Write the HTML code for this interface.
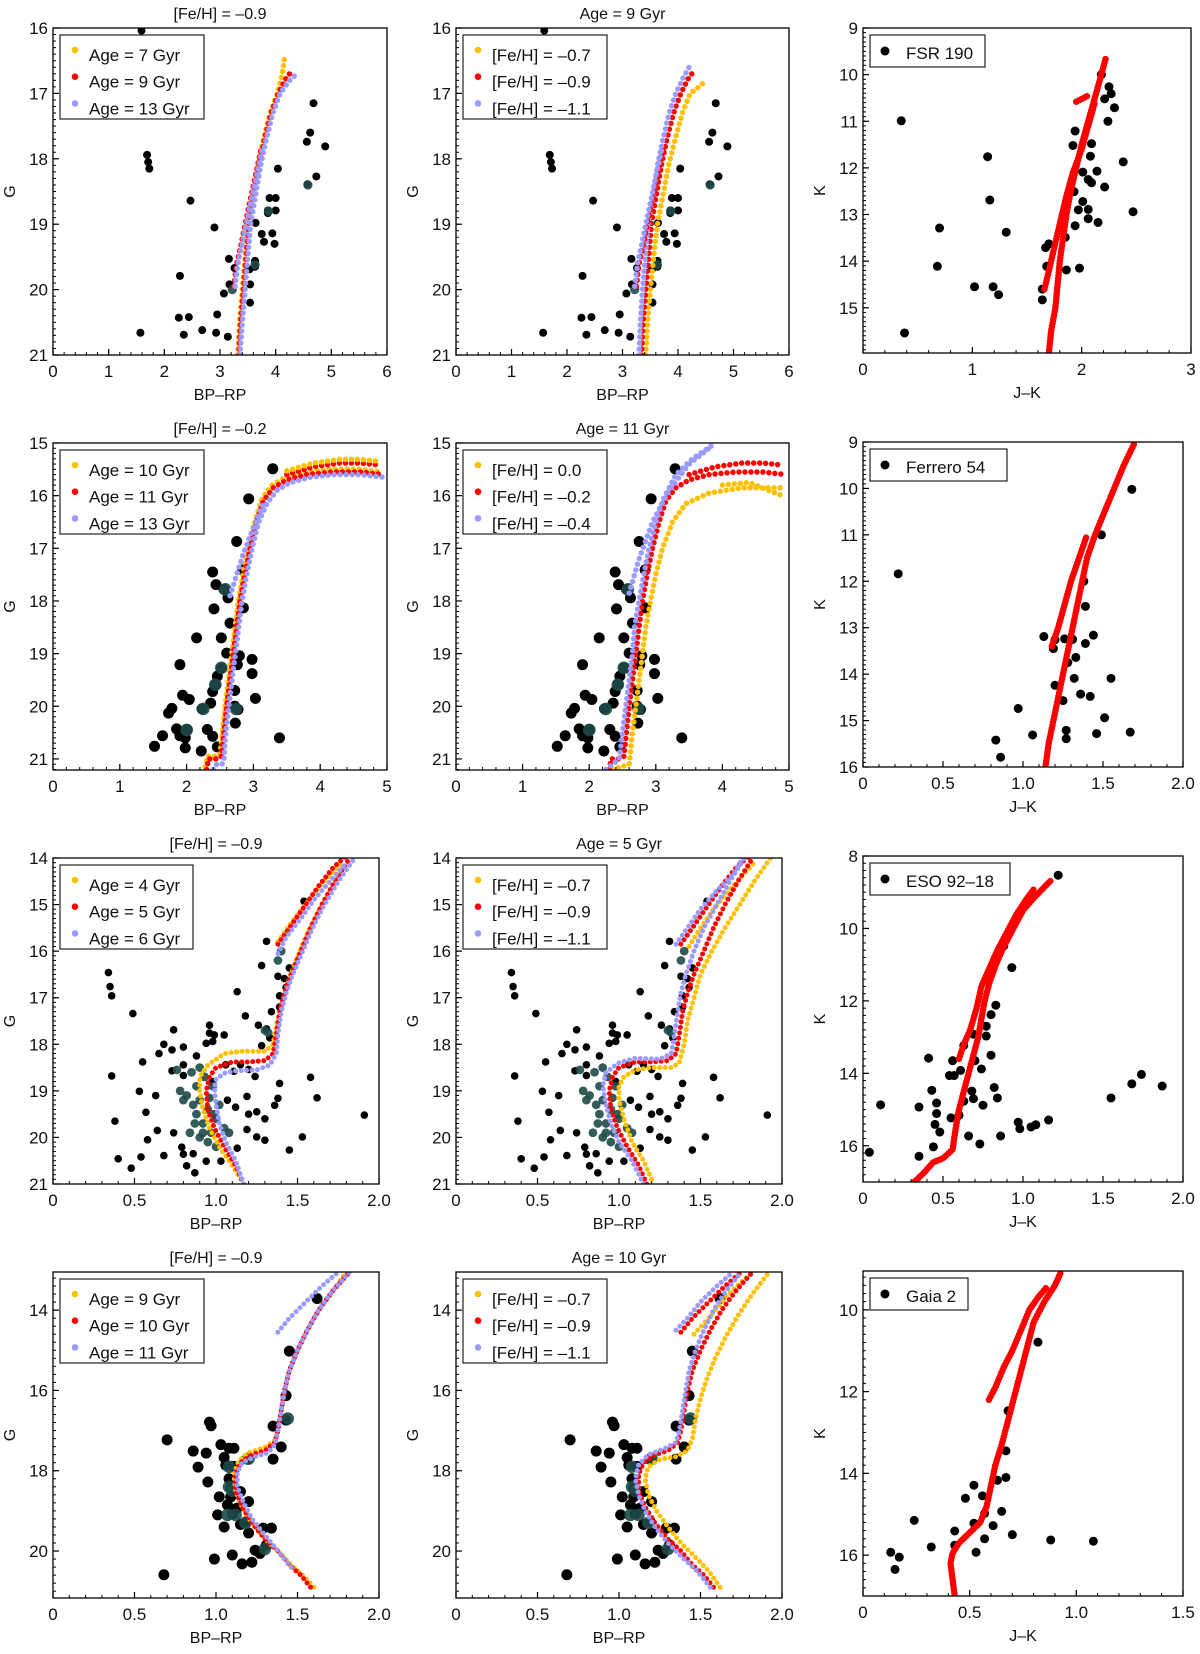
<!DOCTYPE html>
<html><head><meta charset="utf-8">
<style>
html,body{margin:0;padding:0;background:#fff;}
svg{display:block;font-family:"Liberation Sans",sans-serif;}
</style></head>
<body>
<svg id="fig" width="1200" height="1654" viewBox="0 0 1200 1654" xmlns="http://www.w3.org/2000/svg"></svg>
<script>
// ===== Data arrays =====
const c1X=[1.59,1.69,1.71,1.73,2.47,2.9,3.16,2.28,3.17,3.07,3.26,2.95,2.44,2.26,1.57,2.35,2.68,2.93,3.14,3.54,3.54,3.63,3.63,3.53,3.64,3.75,3.79,3.94,3.98,3.89,4.0,3.86,4.0,3.86,4.04,4.56,4.62,4.68,4.89,4.73,4.57];
const c1Y=[16.04,17.94,18.05,18.15,18.64,19.05,19.53,19.79,19.92,20.06,19.67,20.38,20.42,20.43,20.66,20.69,20.62,20.66,20.72,20.2,19.92,19.56,19.65,19.69,18.98,19.15,19.27,19.14,19.3,18.6,18.6,18.79,18.79,18.83,18.15,17.74,17.6,17.15,17.81,18.27,18.39];
const c1TX=[3.63,3.87,4.58,3.22];
const c1TY=[19.62,18.8,18.4,20.0];
const r1L_age7_X=[3.32,3.35,3.4,3.45,3.5,3.58,3.68,3.78,3.9,4.03,4.12,4.16];const r1L_age7_Y=[21.0,20.5,20.0,19.5,19.0,18.6,18.1,17.7,17.3,17.0,16.7,16.45];
const r1L_age9_X=[3.34,3.37,3.42,3.47,3.52,3.6,3.7,3.8,3.92,4.05,4.2,4.3];const r1L_age9_Y=[21.0,20.5,20.0,19.5,19.0,18.6,18.1,17.7,17.3,17.0,16.75,16.65];
const r1L_age13_X=[3.36,3.4,3.45,3.5,3.55,3.63,3.73,3.83,3.95,4.08,4.25,4.38];const r1L_age13_Y=[21.0,20.5,20.0,19.5,19.0,18.6,18.1,17.7,17.3,17.0,16.8,16.7];
const r1_hbX=[3.25,3.3,3.38,3.45,3.55,3.65,3.75];const r1_hbY=[19.95,19.6,19.3,19.0,18.6,18.2,17.8];
const r1M_fe07_X=[3.42,3.45,3.5,3.56,3.63,3.72,3.83,3.95,4.08,4.22,4.38,4.5];const r1M_fe07_Y=[21.0,20.5,20.0,19.5,19.0,18.6,18.1,17.7,17.3,17.0,16.9,16.8];
const r1M_fe11_X=[3.3,3.32,3.36,3.41,3.46,3.54,3.63,3.73,3.84,3.96,4.1,4.2];const r1M_fe11_Y=[21.0,20.5,20.0,19.5,19.0,18.6,18.1,17.7,17.3,17.0,16.75,16.6];
const c2X=[3.29,2.93,2.75,2.84,2.39,2.44,2.56,2.62,2.41,2.85,2.65,2.15,2.52,2.6,2.79,2.98,1.9,2.76,2.52,2.98,2.46,2.43,2.39,2.72,1.94,2.04,3.03,2.36,2.23,2.72,2.77,1.78,1.73,2.73,1.85,2.01,1.9,1.98,2.31,2.39,1.64,1.52,1.98,2.22,2.46,3.39];
const c2Y=[15.49,16.06,16.87,17.41,17.45,17.69,17.78,17.94,18.15,18.13,18.42,18.7,18.7,18.99,19.04,19.11,19.21,19.21,19.27,19.38,19.43,19.59,19.72,19.7,19.79,19.87,19.85,19.94,20.05,20.0,20.06,20.04,20.13,20.32,20.43,20.44,20.56,20.6,20.44,20.57,20.56,20.76,20.79,20.85,20.77,20.6];
const c2TX=[2.58,2.25,2.52,2.43,2.0,2.74];
const c2TY=[17.78,20.05,19.27,19.59,20.45,20.05];
const r2_fe02_X=[2.3,2.33,2.45,2.52,2.55,2.6,2.65,2.7,2.75,2.8,2.87,2.95,3.05,3.15,3.3,3.5,3.8,4.2,4.6,4.95];const r2_fe02_Y=[21.2,21.0,21.0,20.95,20.6,20.0,19.5,19.0,18.5,18.0,17.5,17.0,16.5,16.1,15.85,15.7,15.6,15.55,15.55,15.6];
const r2_agbX=[3.5,3.9,4.3,4.6,4.9];const r2_agbY=[15.6,15.45,15.38,15.38,15.42];
const r2_hbX=[2.65,2.75,2.85,3.0,3.15];const r2_hbY=[17.9,17.5,17.1,16.6,16.15];
const r2_age13_X=[2.4,2.45,2.53,2.56,2.58,2.63,2.68,2.73,2.78,2.83,2.9,2.98,3.08,3.2,3.35,3.55,3.85,4.2,4.6,4.95];const r2_age13_Y=[21.2,21.1,21.1,21.0,20.6,20.0,19.5,19.0,18.5,18.0,17.5,17.0,16.5,16.15,15.9,15.75,15.65,15.6,15.6,15.65];
const r2_fe00_X=[2.35,2.6,2.65,2.7,2.75,2.8,2.85,2.92,3.0,3.1,3.25,3.45,3.8,4.3,4.9];const r2_fe00_Y=[21.2,21.1,20.5,20.0,19.5,19.0,18.5,18.0,17.5,17.0,16.5,16.15,15.95,15.85,15.85];
const r2_fe00agbX=[4.0,4.4,4.9];const r2_fe00agbY=[15.8,15.75,16.0];
const r2_fe04_X=[2.25,2.45,2.5,2.55,2.6,2.65,2.68,2.75,2.82,2.9,3.0,3.1,3.3,3.55,3.9];const r2_fe04_Y=[21.2,21.0,20.5,20.0,19.5,19.0,18.5,18.0,17.5,17.0,16.5,16.1,15.6,15.3,15.0];
const r2_fe04hbX=[2.6,2.75,2.95,3.2,3.5,3.8];const r2_fe04hbY=[17.85,17.2,16.5,15.9,15.4,15.1];
const c3X=[0.34,0.35,0.36,0.49,0.36,0.55,0.38,0.53,0.57,0.64,0.58,0.4,0.54,0.48,0.68,0.63,0.74,0.68,0.65,0.73,0.8,0.73,0.8,0.8,0.88,0.96,0.96,0.99,1.05,0.94,0.98,1.13,1.18,1.26,1.31,1.28,1.33,1.31,1.28,1.38,1.39,1.45,1.42,1.43,1.39,1.34,1.54,1.58,1.62,1.91,1.53,1.45,1.39,1.36,1.38,1.19,1.2,1.25,1.3,1.12,1.07,1.19,1.25,1.3,1.13,1.03,0.94,0.82,0.87,0.8,0.86,0.74,0.79,0.98,1.11,1.15,1.2,1.06,1.24];
const c3Y=[16.46,16.76,16.96,17.34,18.68,18.38,19.65,19.01,19.46,19.85,20.05,20.46,20.42,20.66,20.39,19.1,17.69,18.0,18.2,18.12,18.06,18.57,18.67,18.44,18.25,17.59,17.76,17.8,17.8,17.98,17.94,16.87,17.39,17.59,17.67,18.03,17.86,15.79,16.31,16.54,16.96,16.36,16.59,16.78,17.2,17.3,14.93,18.71,19.15,19.52,19.99,20.27,18.84,19.31,19.16,19.12,19.5,19.45,19.6,19.35,19.2,19.83,19.99,20.06,20.23,20.51,20.51,20.61,20.76,20.36,20.35,19.9,20.21,18.8,18.58,18.44,18.54,18.44,18.69];
const c3TX=[0.85,0.88,0.82,0.9,0.95,0.88,0.92,0.97,1.0,1.02,0.86,0.8,0.93,1.05,0.95,1.0,0.9,0.84,0.98,0.9,1.08,0.78,0.96,0.92,0.87,0.99,0.76,1.38,1.4,1.3,1.32];
const c3TY=[18.6,18.9,19.1,19.2,19.4,19.5,19.7,19.9,19.6,19.3,19.3,19.2,18.7,19.8,20.1,20.2,20.0,19.9,18.9,18.5,19.9,19.0,19.15,19.9,19.7,19.5,18.55,16.2,16.0,17.7,17.75];
const r3_age4_X=[1.17,1.1,1.02,0.96,0.92,0.9,0.9,0.95,1.05,1.15,1.3,1.35,1.37,1.4,1.43,1.48,1.55,1.62,1.7,1.8];const r3_age4_Y=[21.0,20.6,20.2,19.8,19.4,19.0,18.7,18.45,18.2,18.15,18.15,18.0,17.6,17.2,16.8,16.3,15.7,15.2,14.7,14.1];
const r3_age4b_X=[1.38,1.46,1.55,1.65,1.77];const r3_age4b_Y=[15.8,15.4,15.0,14.55,14.1];
const r3_age5_X=[1.17,1.12,1.05,0.99,0.95,0.94,0.96,1.0,1.1,1.2,1.3,1.35,1.37,1.39,1.42,1.46,1.52,1.58,1.65,1.73,1.82];const r3_age5_Y=[21.0,20.6,20.2,19.8,19.4,19.0,18.7,18.5,18.38,18.38,18.35,18.2,17.8,17.3,16.9,16.5,16.0,15.5,15.0,14.5,14.0];
const r3_age5b_X=[1.38,1.45,1.55,1.63,1.72,1.8];const r3_age5b_Y=[15.85,15.5,15.0,14.6,14.2,13.95];
const r3_age6_X=[1.17,1.12,1.06,1.02,1.0,0.99,1.0,1.05,1.12,1.25,1.33,1.37,1.38,1.4,1.43,1.47,1.52,1.58,1.65,1.75,1.85];const r3_age6_Y=[21.0,20.5,20.1,19.7,19.3,18.95,18.75,18.62,18.57,18.55,18.45,18.2,17.8,17.3,16.9,16.5,16.1,15.6,15.1,14.5,14.0];
const r3_age6b_X=[1.38,1.43,1.52,1.6,1.7,1.8];const r3_age6b_Y=[16.05,15.7,15.3,14.9,14.5,14.1];
const r3_fe07_X=[1.2,1.15,1.08,1.03,1.0,1.0,1.03,1.1,1.2,1.32,1.37,1.4,1.42,1.46,1.5,1.57,1.65,1.74,1.83,1.93];const r3_fe07_Y=[20.9,20.5,20.1,19.6,19.2,18.9,18.7,18.55,18.5,18.5,18.4,18.0,17.5,17.0,16.5,16.0,15.5,15.0,14.5,14.0];
const r3_fe07b_X=[1.43,1.5,1.58,1.7,1.83];const r3_fe07b_Y=[15.9,15.5,15.1,14.6,14.1];
const r3_fe11_X=[1.15,1.08,1.0,0.95,0.92,0.9,0.92,1.0,1.1,1.25,1.32,1.34,1.36,1.38,1.41,1.46,1.52,1.6,1.68,1.77];const r3_fe11_Y=[21.0,20.5,20.1,19.7,19.3,18.9,18.6,18.4,18.3,18.32,18.2,17.8,17.3,16.9,16.5,16.0,15.5,15.0,14.5,14.0];
const r3_fe11b_X=[1.35,1.42,1.5,1.6,1.7,1.76];const r3_fe11b_Y=[15.85,15.5,15.1,14.7,14.35,14.0];
const c4X=[0.7,0.68,0.86,0.89,0.95,0.94,0.96,0.97,1.03,1.08,1.11,1.05,1.06,1.11,1.08,1.02,1.09,1.07,1.13,1.01,1.1,1.05,1.15,1.2,1.19,1.2,1.29,1.34,1.24,1.27,1.31,0.99,1.1,1.16,1.22,1.35,1.35,1.4,1.43,1.43,1.45,1.62,1.19,1.15,1.09];
const c4Y=[17.23,20.59,17.51,17.91,18.28,17.56,16.79,16.88,17.35,17.44,17.44,17.67,17.86,17.89,18.2,18.65,18.65,18.85,18.93,19.1,19.08,19.4,19.34,18.77,19.26,19.55,19.43,19.43,19.98,20.06,19.85,20.2,20.1,20.32,20.28,17.71,16.89,17.41,16.74,16.13,15.02,13.71,17.71,18.52,18.44];
const c4TX=[1.08,1.08,1.1,1.12,1.18,1.07,1.3,1.2,1.44];
const c4TY=[17.9,18.4,18.5,19.1,19.3,19.1,19.95,17.7,16.7];
const r4_age9_X=[1.6,1.53,1.46,1.38,1.3,1.22,1.16,1.12,1.11,1.14,1.2,1.3,1.36,1.38,1.4,1.42,1.45,1.5,1.56,1.63,1.72,1.8];const r4_age9_Y=[20.9,20.6,20.35,20.0,19.7,19.3,18.9,18.5,18.1,17.75,17.55,17.42,17.25,17.0,16.5,16.0,15.5,15.0,14.5,14.0,13.5,13.05];
const r4_age10_X=[1.58,1.52,1.45,1.38,1.3,1.22,1.16,1.12,1.12,1.15,1.22,1.3,1.36,1.38,1.4,1.42,1.45,1.5,1.56,1.63,1.72,1.82];const r4_age10_Y=[20.9,20.6,20.35,20.0,19.7,19.3,18.9,18.5,18.1,17.8,17.6,17.5,17.3,17.0,16.5,16.0,15.5,15.0,14.5,14.0,13.5,13.05];
const r4_age11_X=[1.46,1.4,1.34,1.28,1.22,1.17,1.13,1.13,1.16,1.24,1.32,1.36,1.38,1.4,1.42,1.45,1.5,1.56,1.63,1.72,1.82];const r4_age11_Y=[20.4,20.1,19.8,19.5,19.2,18.8,18.4,18.05,17.8,17.65,17.55,17.35,17.0,16.5,16.0,15.5,15.0,14.5,14.0,13.5,13.05];
const r4_bX=[1.38,1.45,1.55,1.65,1.75];const r4_bY=[14.55,14.2,13.8,13.4,13.05];
const r4_fe07_X=[1.62,1.55,1.48,1.38,1.3,1.23,1.18,1.16,1.18,1.25,1.35,1.42,1.45,1.47,1.5,1.54,1.59,1.65,1.72,1.8,1.92];const r4_fe07_Y=[20.9,20.5,20.2,19.8,19.4,19.0,18.6,18.2,17.9,17.72,17.65,17.5,17.2,16.7,16.2,15.7,15.2,14.7,14.2,13.7,13.05];
const r4_fe07b_X=[1.46,1.55,1.65,1.75,1.82];const r4_fe07b_Y=[14.6,14.2,13.7,13.3,13.05];
const r4_fe11_X=[1.56,1.48,1.4,1.3,1.22,1.16,1.12,1.1,1.12,1.18,1.28,1.35,1.37,1.39,1.41,1.43,1.47,1.52,1.58,1.66,1.75];const r4_fe11_Y=[20.9,20.5,20.2,19.8,19.4,19.0,18.6,18.2,17.85,17.6,17.45,17.3,17.0,16.5,16.0,15.5,15.0,14.5,14.0,13.5,13.05];
const r4_fe11b_X=[1.35,1.42,1.5,1.6,1.7];const r4_fe11b_Y=[14.5,14.2,13.8,13.4,13.05];
const fsrX=[0.35,1.14,1.16,0.7,1.31,0.68,1.02,1.19,1.24,0.38,2.18,2.25,2.27,2.21,2.3,2.24,1.94,2.09,1.92,2.08,2.38,2.01,2.14,2.06,2.09,2.21,1.93,2.01,1.97,2.06,2.06,2.47,2.15,1.94,1.85,1.67,1.7,1.68,1.86,1.98,1.64,1.64];
const fsrY=[10.99,11.76,12.69,13.29,13.38,14.11,14.55,14.55,14.72,15.54,10.0,10.26,10.41,10.52,10.71,11.0,11.21,11.48,11.52,11.75,11.87,12.09,12.07,12.25,12.32,12.41,12.51,12.72,12.9,12.89,13.09,12.94,13.17,13.24,13.49,13.71,13.63,14.11,14.19,14.15,14.6,14.83];
const fsrIsoX=[1.7,1.72,1.76,1.78,1.8,1.83,1.86,1.9,1.95,2.0,2.06,2.12,2.18,2.22];const fsrIsoY=[15.97,15.5,15.0,14.5,14.0,13.5,13.0,12.5,12.0,11.5,11.0,10.5,10.0,9.65];
const fsrIsoBX=[1.66,1.7,1.75,1.8,1.86,1.92,2.0,2.06,2.12];const fsrIsoBY=[14.6,14.2,13.7,13.2,12.6,12.1,11.6,11.1,10.6];
const fsrExtraX=[1.95,2.06];const fsrExtraY=[10.58,10.45];
const ferX=[0.22,1.68,1.49,1.38,1.39,1.13,1.2,1.19,1.26,1.31,1.44,1.39,1.33,1.28,1.2,1.32,1.55,1.36,1.42,1.25,0.97,1.51,0.83,0.86,1.06,1.27,1.27,1.46,1.67];
const ferY=[11.84,10.02,11.0,12.0,12.54,13.19,13.26,13.45,13.24,13.25,13.16,13.34,13.64,13.75,14.24,14.09,14.09,14.43,14.48,14.57,14.74,14.94,15.42,15.79,15.31,15.21,15.39,15.28,15.25];
const ferIsoX=[1.14,1.16,1.19,1.22,1.25,1.28,1.31,1.34,1.37,1.4,1.45,1.51,1.57,1.63,1.7];const ferIsoY=[16.0,15.5,15.0,14.5,14.0,13.5,13.0,12.5,12.0,11.5,11.0,10.5,10.0,9.5,9.0];
const ferIsoBX=[1.18,1.22,1.26,1.3,1.35,1.4];const ferIsoBY=[13.4,13.0,12.5,12.0,11.5,11.0];
const esoX=[1.22,0.88,0.93,0.83,0.8,0.77,0.77,0.8,0.69,0.63,0.56,0.7,0.74,0.61,0.54,0.57,0.41,0.43,0.82,0.84,0.68,0.69,0.75,0.63,0.11,0.35,0.46,0.46,0.55,0.6,0.45,0.48,0.66,0.73,0.86,0.44,0.35,0.04,0.97,0.98,1.05,1.08,1.16,1.55,1.68,1.74,1.87];
const esoY=[8.53,10.48,11.08,12.12,12.38,12.7,12.97,13.5,12.92,13.23,13.65,13.65,13.88,13.92,14.06,14.06,13.58,14.47,14.39,14.68,14.49,14.7,14.88,14.77,14.87,14.93,14.82,15.11,15.23,15.16,15.41,15.62,15.73,15.95,15.73,16.03,16.29,16.18,15.35,15.53,15.48,15.42,15.29,14.68,14.29,14.03,14.35];
const esoIsoX=[0.32,0.38,0.44,0.5,0.56,0.58,0.6,0.63,0.66,0.69,0.72,0.74,0.76,0.79,0.83,0.88,0.94,1.0,1.08,1.18];const esoIsoY=[17.0,16.75,16.45,16.35,16.1,15.5,15.0,14.5,14.0,13.5,13.0,12.5,12.0,11.5,11.0,10.5,10.0,9.5,9.1,8.65];
const esoIsoBX=[0.6,0.63,0.67,0.71,0.74,0.78,0.84,0.9,0.96,1.02,1.07];const esoIsoBY=[13.6,13.2,12.8,12.2,11.6,11.2,10.6,10.1,9.6,9.2,8.9];
const gaiaX=[0.82,0.68,0.67,0.67,0.63,0.52,0.56,0.48,0.65,0.57,0.24,0.52,0.61,0.43,0.7,0.57,0.88,1.08,0.32,0.43,0.13,0.17,0.15,0.53];
const gaiaY=[10.79,12.47,13.45,14.1,14.17,14.29,14.55,14.61,14.93,14.98,15.15,15.22,15.28,15.41,15.5,15.6,15.63,15.66,15.8,15.76,15.93,16.05,16.35,15.93];
const gaiaIsoX=[0.43,0.42,0.41,0.42,0.45,0.5,0.55,0.58,0.6,0.62,0.65,0.68,0.71,0.74,0.77,0.8,0.85,0.9,0.93];const gaiaIsoY=[17.0,16.6,16.2,15.95,15.7,15.45,15.2,14.8,14.3,13.8,13.3,12.7,12.1,11.5,10.9,10.3,9.8,9.4,9.05];
const gaiaIsoBX=[0.59,0.62,0.66,0.7,0.74,0.78,0.82,0.86];const gaiaIsoBY=[12.2,11.9,11.4,11.0,10.5,10.0,9.7,9.45];
const ticks0to6=[0,1,2,3,4,5,6];const ticks0to5=[0,1,2,3,4,5];const ticks0to3=[0,1,2,3];
const ticks0to2=[0,0.5,1.0,1.5,2.0];const tickLab0to2=["0","0.5","1.0","1.5","2.0"];
const ticks0to15=[0,0.5,1.0,1.5];const tickLab0to15=["0","0.5","1.0","1.5"];
const yT1=[16,17,18,19,20,21];const yT2=[15,16,17,18,19,20,21];const yT3=[14,15,16,17,18,19,20,21];const yT4=[14,16,18,20];
const yR1=[9,10,11,12,13,14,15];const yR2=[9,10,11,12,13,14,15,16];const yR3=[8,10,12,14,16];const yR4=[10,12,14,16];

const YEL='#ffc000',RED='#ff0000',BLU='#9a9aff',TEAL='#1d4a48';
const svg=document.getElementById('fig');
const NS='http://www.w3.org/2000/svg';
function mk(tag,attrs,parent){const e=document.createElementNS(NS,tag);for(const k in attrs)e.setAttribute(k,attrs[k]);(parent||svg).appendChild(e);return e;}

function panel(p){
  const g=mk('g',{});
  
  
  const sx=v=>p.x0+(v-p.xd[0])/(p.xd[1]-p.xd[0])*(p.x1-p.x0);
  const sy=v=>p.y0+(v-p.yd[0])/(p.yd[1]-p.yd[0])*(p.y1-p.y0);
  const clipId='clip'+p.name;
  const cp=mk('clipPath',{id:clipId},g);mk('rect',{x:p.x0,y:p.y0,width:p.x1-p.x0,height:p.y1-p.y0},cp);
  const plot=mk('g',{'clip-path':'url(#'+clipId+')'},g);
  const sc=mk('g',{},plot);
  
  
  for(let i=0;i<p.sx.length;i++){mk('circle',{cx:sx(p.sx[i]),cy:sy(p.sy[i]),r:p.r,fill:'#000'},sc);}
  if(p.tx){for(let i=0;i<p.tx.length;i++){mk('circle',{cx:sx(p.tx[i]),cy:sy(p.ty[i]),r:p.r*1.15,fill:TEAL,opacity:0.9},sc);}}
  p.iso.forEach(s=>{
    const d=s.x.map((v,i)=>(i?'L':'M')+sx(v).toFixed(1)+','+sy(s.y[i]).toFixed(1)).join('');
    const e=mk('path',{d:d,fill:'none',stroke:s.c,'stroke-width':p.dw,'stroke-linecap':'round','stroke-dasharray':'0 '+p.gap},plot);
    
    
  });
  mk('rect',{x:p.x0,y:p.y0,width:p.x1-p.x0,height:p.y1-p.y0,fill:'none',stroke:'#000','stroke-width':1.3},g);
  const xt=mk('g',{},g);
  
  
  for(let v=p.xd[0];v<=p.xd[1]+1e-6;v+=p.xm){const X=sx(v);mk('line',{x1:X,x2:X,y1:p.y1,y2:p.y1-3,stroke:'#000','stroke-width':1},xt);}
  p.xt.forEach((v,i)=>{const X=sx(v);mk('line',{x1:X,x2:X,y1:p.y1,y2:p.y1-6,stroke:'#000','stroke-width':1.2},xt);
    const t=mk('text',{x:X,y:p.y1+22,'text-anchor':'middle','font-size':17,fill:'#111'},xt);t.textContent=p.xl?p.xl[i]:String(v);});
  const yt=mk('g',{},g);
  
  
  const lo=Math.min(p.yd[0],p.yd[1]),hi=Math.max(p.yd[0],p.yd[1]);
  for(let v=Math.ceil(lo/p.ym)*p.ym;v<=hi+1e-6;v+=p.ym){const Y=sy(v);mk('line',{x1:p.x0,x2:p.x0+3,y1:Y,y2:Y,stroke:'#000','stroke-width':1},yt);}
  p.yt.forEach(v=>{const Y=sy(v);mk('line',{x1:p.x0,x2:p.x0+6,y1:Y,y2:Y,stroke:'#000','stroke-width':1.2},yt);
    const t=mk('text',{x:p.x0-5,y:Y+6,'text-anchor':'end','font-size':17,fill:'#111'},yt);t.textContent=String(v);});
  const cx=(p.x0+p.x1)/2;
  const xl=mk('text',{x:cx,y:p.y1+45,'text-anchor':'middle','font-size':16,fill:'#111'},g);xl.textContent=p.xlab;
  
  
  const yx=p.x0-38,ym=(p.y0+p.y1)/2;
  const yl=mk('text',{x:yx,y:ym,'text-anchor':'middle','font-size':16,fill:'#111',transform:'rotate(-90 '+yx+' '+ym+')'},g);yl.textContent=p.ylab;
  
  
  if(p.title){const tt=mk('text',{x:cx,y:p.y0-9,'text-anchor':'middle','font-size':16,fill:'#111'},g);tt.textContent=p.title;
    
    }
  const lg=mk('g',{},g);
  
  
  const lx=p.x0+7,ly=p.y0+7;
  const multi=p.leg.length>1;
  mk('rect',{x:lx,y:ly,width:p.lw,height:multi?84:32,fill:'#fff',stroke:'#222','stroke-width':1.2},lg);
  p.leg.forEach((e,i)=>{
    const base=multi?ly+26+i*26.7:ly+24;
    const my=multi?ly+15+i*26.7:ly+16;
    const ent=mk('g',{},lg);
    
    
    mk('circle',{cx:lx+15,cy:my,r:e.r||3.3,fill:e.c},ent);
    const t=mk('text',{x:lx+(e.r?36:29),y:base,'font-size':17,fill:'#111'},ent);t.textContent=e.t;});
}

const L12=[53,387],L34=[53,379],M12=[456,789],M34=[456,782];
const RW=[[28,355],[443,770],[858,1184],[1272,1598]];
panel({name:'panel-r1-left',x0:L12[0],x1:L12[1],y0:RW[0][0],y1:RW[0][1],xd:[0,6],yd:[16,21],xt:ticks0to6,xm:0.2,yt:yT1,ym:0.1,xlab:'BP–RP',ylab:'G',title:'[Fe/H] = –0.9',
  sx:c1X,sy:c1Y,tx:c1TX,ty:c1TY,r:4,dw:5.5,gap:6,lw:144,
  iso:[{n:'age7',c:YEL,x:r1L_age7_X,y:r1L_age7_Y},{n:'age9',c:RED,x:r1L_age9_X,y:r1L_age9_Y},{n:'age13',c:BLU,x:r1L_age13_X,y:r1L_age13_Y},{n:'hb',c:RED,x:r1_hbX,y:r1_hbY},{n:'hb13',c:BLU,x:r1_hbX.map(v=>v+0.02),y:r1_hbY}],
  leg:[{c:YEL,t:'Age = 7 Gyr'},{c:RED,t:'Age = 9 Gyr'},{c:BLU,t:'Age = 13 Gyr'}]});
panel({name:'panel-r1-mid',x0:M12[0],x1:M12[1],y0:RW[0][0],y1:RW[0][1],xd:[0,6],yd:[16,21],xt:ticks0to6,xm:0.2,yt:yT1,ym:0.1,xlab:'BP–RP',ylab:'G',title:'Age = 9 Gyr',
  sx:c1X,sy:c1Y,tx:c1TX,ty:c1TY,r:4,dw:5.5,gap:6,lw:144,
  iso:[{n:'fe-0.7',c:YEL,x:r1M_fe07_X,y:r1M_fe07_Y},{n:'fe-0.9',c:RED,x:r1L_age9_X,y:r1L_age9_Y},{n:'fe-1.1',c:BLU,x:r1M_fe11_X,y:r1M_fe11_Y},{n:'hb',c:RED,x:r1_hbX,y:r1_hbY},{n:'hb11',c:BLU,x:r1_hbX.map(v=>v-0.03),y:r1_hbY}],
  leg:[{c:YEL,t:'[Fe/H] = –0.7'},{c:RED,t:'[Fe/H] = –0.9'},{c:BLU,t:'[Fe/H] = –1.1'}]});
panel({name:'panel-fsr190',x0:863,x1:1191,y0:28,y1:353,xd:[0,3],yd:[9,15.97],xt:ticks0to3,xm:0.2,yt:yR1,ym:0.1,xlab:'J–K',ylab:'K',
  sx:fsrX,sy:fsrY,r:4.5,dw:6.5,gap:3,lw:115,
  iso:[{n:'main',c:RED,x:fsrIsoX,y:fsrIsoY},{n:'branch',c:RED,x:fsrIsoBX,y:fsrIsoBY},{n:'extra',c:RED,x:fsrExtraX,y:fsrExtraY}],
  leg:[{c:'#000',t:'FSR 190',r:4.5}]});
panel({name:'panel-r2-left',x0:L12[0],x1:L12[1],y0:RW[1][0],y1:RW[1][1],xd:[0,5],yd:[15,21.21],xt:ticks0to5,xm:0.2,yt:yT2,ym:0.1,xlab:'BP–RP',ylab:'G',title:'[Fe/H] = –0.2',
  sx:c2X,sy:c2Y,tx:c2TX,ty:c2TY,r:5.5,dw:5.5,gap:6,lw:144,
  iso:[{n:'age10',c:YEL,x:r2_fe02_X.map(v=>v-0.02),y:r2_fe02_Y.map(v=>v-0.05)},{n:'age11',c:RED,x:r2_fe02_X,y:r2_fe02_Y},{n:'age13',c:BLU,x:r2_age13_X,y:r2_age13_Y},{n:'agb',c:RED,x:r2_agbX,y:r2_agbY},{n:'agb10',c:YEL,x:r2_agbX,y:r2_agbY.map(v=>v-0.07)},{n:'hb',c:BLU,x:r2_hbX,y:r2_hbY}],
  leg:[{c:YEL,t:'Age = 10 Gyr'},{c:RED,t:'Age = 11 Gyr'},{c:BLU,t:'Age = 13 Gyr'}]});
panel({name:'panel-r2-mid',x0:M12[0],x1:M12[1],y0:RW[1][0],y1:RW[1][1],xd:[0,5],yd:[15,21.21],xt:ticks0to5,xm:0.2,yt:yT2,ym:0.1,xlab:'BP–RP',ylab:'G',title:'Age = 11 Gyr',
  sx:c2X,sy:c2Y,tx:c2TX,ty:c2TY,r:5.5,dw:5.5,gap:6,lw:144,
  iso:[{n:'fe0.0',c:YEL,x:r2_fe00_X,y:r2_fe00_Y},{n:'fe0.0-agb',c:YEL,x:r2_fe00agbX,y:r2_fe00agbY},{n:'fe-0.2',c:RED,x:r2_fe02_X,y:r2_fe02_Y},{n:'fe-0.2-agb',c:RED,x:r2_agbX,y:r2_agbY},{n:'fe-0.4',c:BLU,x:r2_fe04_X,y:r2_fe04_Y},{n:'fe-0.4-hb',c:BLU,x:r2_fe04hbX,y:r2_fe04hbY}],
  leg:[{c:YEL,t:'[Fe/H] = 0.0'},{c:RED,t:'[Fe/H] = –0.2'},{c:BLU,t:'[Fe/H] = –0.4'}]});
panel({name:'panel-ferrero54',x0:863,x1:1183,y0:442,y1:767,xd:[0,2],yd:[9,16],xt:ticks0to2,xl:tickLab0to2,xm:0.1,yt:yR2,ym:0.1,xlab:'J–K',ylab:'K',
  sx:ferX,sy:ferY,r:4.5,dw:6.5,gap:3,lw:137,
  iso:[{n:'main',c:RED,x:ferIsoX,y:ferIsoY},{n:'branch',c:RED,x:ferIsoBX,y:ferIsoBY}],
  leg:[{c:'#000',t:'Ferrero 54',r:4.5}]});
panel({name:'panel-r3-left',x0:L34[0],x1:L34[1],y0:RW[2][0],y1:RW[2][1],xd:[0,2],yd:[14,21],xt:ticks0to2,xl:tickLab0to2,xm:0.1,yt:yT3,ym:0.1,xlab:'BP–RP',ylab:'G',title:'[Fe/H] = –0.9',
  sx:c3X,sy:c3Y,tx:c3TX,ty:c3TY,r:3.8,dw:5,gap:5.5,lw:133,
  iso:[{n:'age4',c:YEL,x:r3_age4_X,y:r3_age4_Y},{n:'age4b',c:YEL,x:r3_age4b_X,y:r3_age4b_Y},{n:'age5',c:RED,x:r3_age5_X,y:r3_age5_Y},{n:'age5b',c:RED,x:r3_age5b_X,y:r3_age5b_Y},{n:'age6',c:BLU,x:r3_age6_X,y:r3_age6_Y},{n:'age6b',c:BLU,x:r3_age6b_X,y:r3_age6b_Y}],
  leg:[{c:YEL,t:'Age = 4 Gyr'},{c:RED,t:'Age = 5 Gyr'},{c:BLU,t:'Age = 6 Gyr'}]});
panel({name:'panel-r3-mid',x0:M34[0],x1:M34[1],y0:RW[2][0],y1:RW[2][1],xd:[0,2],yd:[14,21],xt:ticks0to2,xl:tickLab0to2,xm:0.1,yt:yT3,ym:0.1,xlab:'BP–RP',ylab:'G',title:'Age = 5 Gyr',
  sx:c3X,sy:c3Y,tx:c3TX,ty:c3TY,r:3.8,dw:5,gap:5.5,lw:144,
  iso:[{n:'fe-0.7',c:YEL,x:r3_fe07_X,y:r3_fe07_Y},{n:'fe-0.7b',c:YEL,x:r3_fe07b_X,y:r3_fe07b_Y},{n:'fe-0.9',c:RED,x:r3_age5_X,y:r3_age5_Y},{n:'fe-0.9b',c:RED,x:r3_age5b_X,y:r3_age5b_Y},{n:'fe-1.1',c:BLU,x:r3_fe11_X,y:r3_fe11_Y},{n:'fe-1.1b',c:BLU,x:r3_fe11b_X,y:r3_fe11b_Y}],
  leg:[{c:YEL,t:'[Fe/H] = –0.7'},{c:RED,t:'[Fe/H] = –0.9'},{c:BLU,t:'[Fe/H] = –1.1'}]});
panel({name:'panel-eso92-18',x0:863,x1:1183,y0:856,y1:1182,xd:[0,2],yd:[8,17],xt:ticks0to2,xl:tickLab0to2,xm:0.1,yt:yR3,ym:0.2,xlab:'J–K',ylab:'K',
  sx:esoX,sy:esoY,r:4.5,dw:6.5,gap:3,lw:140,
  iso:[{n:'main',c:RED,x:esoIsoX,y:esoIsoY},{n:'branch',c:RED,x:esoIsoBX,y:esoIsoBY}],
  leg:[{c:'#000',t:'ESO 92–18',r:4.5}]});
panel({name:'panel-r4-left',x0:L34[0],x1:L34[1],y0:RW[3][0],y1:RW[3][1],xd:[0,2],yd:[13.05,21.17],xt:ticks0to2,xl:tickLab0to2,xm:0.1,yt:yT4,ym:0.2,xlab:'BP–RP',ylab:'G',title:'[Fe/H] = –0.9',
  sx:c4X,sy:c4Y,tx:c4TX,ty:c4TY,r:5.5,dw:5,gap:5.5,lw:144,
  iso:[{n:'age9',c:YEL,x:r4_age9_X,y:r4_age9_Y},{n:'age10',c:RED,x:r4_age10_X,y:r4_age10_Y},{n:'age11',c:BLU,x:r4_age11_X,y:r4_age11_Y},{n:'branch',c:BLU,x:r4_bX,y:r4_bY}],
  leg:[{c:YEL,t:'Age = 9 Gyr'},{c:RED,t:'Age = 10 Gyr'},{c:BLU,t:'Age = 11 Gyr'}]});
panel({name:'panel-r4-mid',x0:M34[0],x1:M34[1],y0:RW[3][0],y1:RW[3][1],xd:[0,2],yd:[13.05,21.17],xt:ticks0to2,xl:tickLab0to2,xm:0.1,yt:yT4,ym:0.2,xlab:'BP–RP',ylab:'G',title:'Age = 10 Gyr',
  sx:c4X,sy:c4Y,tx:c4TX,ty:c4TY,r:5.5,dw:5,gap:5.5,lw:144,
  iso:[{n:'fe-0.7',c:YEL,x:r4_fe07_X,y:r4_fe07_Y},{n:'fe-0.7b',c:YEL,x:r4_fe07b_X,y:r4_fe07b_Y},{n:'fe-0.9',c:RED,x:r4_age10_X,y:r4_age10_Y},{n:'fe-0.9b',c:RED,x:r4_bX,y:r4_bY},{n:'fe-1.1',c:BLU,x:r4_fe11_X,y:r4_fe11_Y},{n:'fe-1.1b',c:BLU,x:r4_fe11b_X,y:r4_fe11b_Y}],
  leg:[{c:YEL,t:'[Fe/H] = –0.7'},{c:RED,t:'[Fe/H] = –0.9'},{c:BLU,t:'[Fe/H] = –1.1'}]});
panel({name:'panel-gaia2',x0:863,x1:1183,y0:1271,y1:1596,xd:[0,1.5],yd:[9.05,17],xt:ticks0to15,xl:tickLab0to15,xm:0.1,yt:yR4,ym:0.2,xlab:'J–K',ylab:'K',
  sx:gaiaX,sy:gaiaY,r:4.5,dw:6.5,gap:3,lw:98,
  iso:[{n:'main',c:RED,x:gaiaIsoX,y:gaiaIsoY},{n:'branch',c:RED,x:gaiaIsoBX,y:gaiaIsoBY}],
  leg:[{c:'#000',t:'Gaia 2',r:4.5}]});
</script>
</body></html>
